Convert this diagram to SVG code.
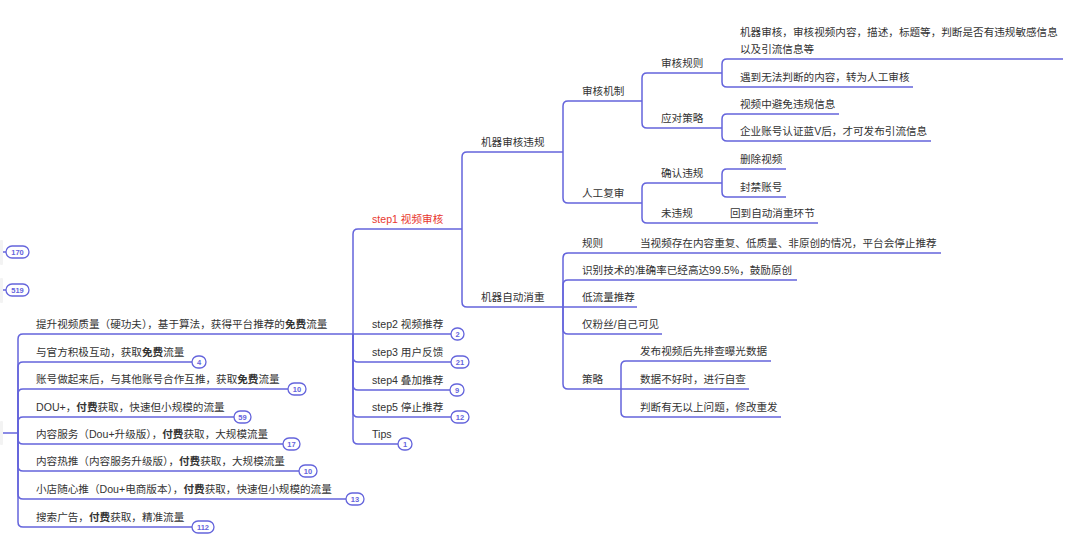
<svg xmlns="http://www.w3.org/2000/svg" width="1080" height="542" viewBox="0 0 1080 542">
<style>
.t{font-family:"Liberation Sans","Noto Sans CJK SC",sans-serif;font-size:10.6px;fill:#333}
.r{fill:#e8382f}
.b{font-weight:bold}
.ln{fill:none;stroke:#6464dc;stroke-width:1.5}
.bg rect{fill:#fff;stroke:#6464dc;stroke-width:1.3}
.bg text{font-family:"Liberation Sans",sans-serif;font-size:7.5px;font-weight:bold;fill:#6464dc;text-anchor:middle}
.ghost{fill:#f3f3f3}
</style>
<rect width="1080" height="542" fill="#fff"/>
<g id="edge-ghosts">
<rect class="ghost" x="0" y="240" width="3" height="25" rx="1"/>
<rect class="ghost" x="0" y="278" width="3" height="25" rx="1"/>
<rect class="ghost" x="0" y="421" width="3" height="24" rx="1"/>
</g>
<g id="connectors" class="ln">
<!-- left group -->
<path d="M3,433 H18"/>
<path d="M18,433 V339 Q18,334 23,334 H353"/>
<path d="M18,433 V367 Q18,362 23,362 H192"/>
<path d="M18,433 V394 Q18,389 23,389 H288"/>
<path d="M18,433 V422 Q18,417 23,417 H234"/>
<path d="M18,433 V439 Q18,444 23,444 H283"/>
<path d="M18,433 V466 Q18,471 23,471 H299"/>
<path d="M18,433 V494 Q18,499 23,499 H346"/>
<path d="M18,433 V522 Q18,527 23,527 H192"/>
<path d="M3,252 H6"/>
<path d="M3,290 H6"/>
<!-- central steps -->
<path d="M353,334 V234 Q353,229 358,229 H462"/>
<path d="M353,334 H451"/>
<path d="M353,334 V357 Q353,362 358,362 H451"/>
<path d="M353,334 V385 Q353,390 358,390 H450"/>
<path d="M353,334 V412 Q353,417 358,417 H451"/>
<path d="M353,334 V439 Q353,444 358,444 H398"/>
<!-- step1 -->
<path d="M462,229 V157 Q462,152 467,152 H563"/>
<path d="M462,229 V302 Q462,307 467,307 H563"/>
<!-- 机器审核违规 -->
<path d="M563,152 V106 Q563,101 568,101 H642"/>
<path d="M563,152 V198 Q563,203 568,203 H642"/>
<!-- 审核机制 -->
<path d="M642,101 V78 Q642,73 647,73 H722"/>
<path d="M642,101 V123 Q642,128 647,128 H722"/>
<!-- 审核规则 -->
<path d="M722,73 V64 Q722,59 727,59 H1063"/>
<path d="M722,73 V82 Q722,87 727,87 H913"/>
<!-- 应对策略 -->
<path d="M722,128 V119 Q722,114 727,114 H839"/>
<path d="M722,128 V136 Q722,141 727,141 H931"/>
<!-- 人工复审 -->
<path d="M642,203 V188 Q642,183 647,183 H722"/>
<path d="M642,203 V218 Q642,223 647,223 H818"/>
<!-- 确认违规 -->
<path d="M722,183 V174 Q722,169 727,169 H786"/>
<path d="M722,183 V192 Q722,197 727,197 H786"/>
<!-- 机器自动消重 -->
<path d="M563,307 V258 Q563,253 568,253 H941"/>
<path d="M563,307 V285 Q563,280 568,280 H797"/>
<path d="M563,307 H637"/>
<path d="M563,307 V329 Q563,334 568,334 H662"/>
<path d="M563,307 V384 Q563,389 568,389 H621"/>
<!-- 策略 -->
<path d="M621,389 V366 Q621,361 626,361 H771"/>
<path d="M621,389 H749"/>
<path d="M621,389 V412 Q621,417 626,417 H781"/>
</g>
<g id="n-left1"><text class="t" x="36" y="328">提升视频质量（硬功夫），基于算法，获得平台推荐的<tspan class="b">免费</tspan>流量</text></g>
<g id="n-left2"><text class="t" x="36" y="356">与官方积极互动，获取<tspan class="b">免费</tspan>流量</text></g>
<g id="n-left3"><text class="t" x="36" y="383">账号做起来后，与其他账号合作互推，获取<tspan class="b">免费</tspan>流量</text></g>
<g id="n-left4"><text class="t" x="36" y="411">DOU+，<tspan class="b">付费</tspan>获取，快速但小规模的流量</text></g>
<g id="n-left5"><text class="t" x="36" y="438">内容服务（Dou+升级版），<tspan class="b">付费</tspan>获取，大规模流量</text></g>
<g id="n-left6"><text class="t" x="36" y="465">内容热推（内容服务升级版），<tspan class="b">付费</tspan>获取，大规模流量</text></g>
<g id="n-left7"><text class="t" x="36" y="493">小店随心推（Dou+电商版本），<tspan class="b">付费</tspan>获取，快速但小规模的流量</text></g>
<g id="n-left8"><text class="t" x="36" y="521">搜索广告，<tspan class="b">付费</tspan>获取，精准流量</text></g>
<g id="n-step1"><text class="t r" x="372" y="223">step1 视频审核</text></g>
<g id="n-step2"><text class="t" x="372" y="328">step2 视频推荐</text></g>
<g id="n-step3"><text class="t" x="372" y="356">step3 用户反馈</text></g>
<g id="n-step4"><text class="t" x="372" y="384">step4 叠加推荐</text></g>
<g id="n-step5"><text class="t" x="372" y="411">step5 停止推荐</text></g>
<g id="n-tips"><text class="t" x="372" y="438">Tips</text></g>
<g id="n-jqshwg"><text class="t" x="481" y="146">机器审核违规</text></g>
<g id="n-jqzdxz"><text class="t" x="481" y="301">机器自动消重</text></g>
<g id="n-shjz"><text class="t" x="582" y="95">审核机制</text></g>
<g id="n-rgfs"><text class="t" x="582" y="197">人工复审</text></g>
<g id="n-shgz"><text class="t" x="661" y="67">审核规则</text></g>
<g id="n-ydcl"><text class="t" x="661" y="122">应对策略</text></g>
<g id="n-qrwg"><text class="t" x="661" y="177">确认违规</text></g>
<g id="n-wwg"><text class="t" x="661" y="217">未违规</text></g>
<g id="n-hd"><text class="t" x="730" y="217">回到自动消重环节</text></g>
<g id="n-r1"><text class="t" x="740" y="36">机器审核，审核视频内容，描述，标题等，判断是否有违规敏感信息</text><text class="t" x="740" y="53">以及引流信息等</text></g>
<g id="n-r2"><text class="t" x="740" y="81">遇到无法判断的内容，转为人工审核</text></g>
<g id="n-s1"><text class="t" x="740" y="108">视频中避免违规信息</text></g>
<g id="n-s2"><text class="t" x="740" y="135">企业账号认证蓝V后，才可发布引流信息</text></g>
<g id="n-del"><text class="t" x="740" y="163">删除视频</text></g>
<g id="n-ban"><text class="t" x="740" y="191">封禁账号</text></g>
<g id="n-gz"><text class="t" x="582" y="247">规则</text></g>
<g id="n-gz1"><text class="t" x="640" y="247">当视频存在内容重复、低质量、非原创的情况，平台会停止推荐</text></g>
<g id="n-sb"><text class="t" x="582" y="274">识别技术的准确率已经高达99.5%，鼓励原创</text></g>
<g id="n-dll"><text class="t" x="582" y="301">低流量推荐</text></g>
<g id="n-jfs"><text class="t" x="582" y="328">仅粉丝/自己可见</text></g>
<g id="n-cl"><text class="t" x="582" y="383">策略</text></g>
<g id="n-cl1"><text class="t" x="640" y="355">发布视频后先排查曝光数据</text></g>
<g id="n-cl2"><text class="t" x="640" y="383">数据不好时，进行自查</text></g>
<g id="n-cl3"><text class="t" x="640" y="411">判断有无以上问题，修改重发</text></g>
<g id="badges" class="bg">
<rect x="6" y="246" width="23" height="12" rx="6"/><text x="17.5" y="254.7">170</text>
<rect x="6" y="284" width="23" height="12" rx="6"/><text x="17.5" y="292.7">519</text>
<rect x="192" y="356" width="14" height="12" rx="6"/><text x="199" y="364.7">4</text>
<rect x="288" y="383" width="18" height="12" rx="6"/><text x="297" y="391.7">10</text>
<rect x="234" y="411" width="17" height="12" rx="6"/><text x="242.5" y="419.7">59</text>
<rect x="283" y="438" width="17" height="12" rx="6"/><text x="291.5" y="446.7">17</text>
<rect x="299" y="465" width="18" height="12" rx="6"/><text x="308" y="473.7">10</text>
<rect x="346" y="493" width="18" height="12" rx="6"/><text x="355" y="501.7">13</text>
<rect x="192" y="521" width="22" height="12" rx="6"/><text x="203" y="529.7">112</text>
<rect x="451" y="328" width="13" height="12" rx="6"/><text x="457.5" y="336.7">2</text>
<rect x="451" y="356" width="18" height="12" rx="6"/><text x="460" y="364.7">21</text>
<rect x="450" y="384" width="14" height="12" rx="6"/><text x="457" y="392.7">9</text>
<rect x="451" y="411" width="18" height="12" rx="6"/><text x="460" y="419.7">12</text>
<rect x="398" y="438" width="14" height="12" rx="6"/><text x="405" y="446.7">1</text>
</g>
</svg>
